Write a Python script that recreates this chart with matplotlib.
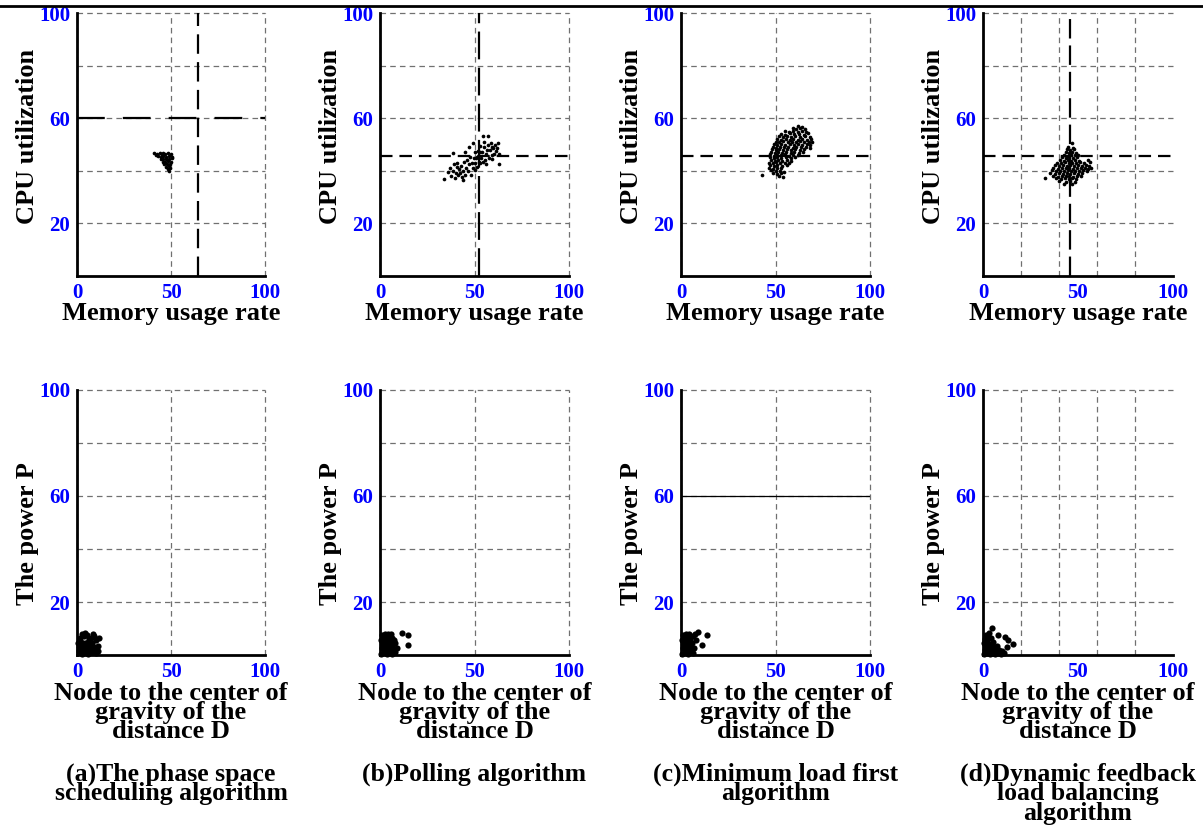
#!/usr/bin/env python
# -*- coding:utf-8 -*-

import matplotlib
matplotlib.use('Agg')
import matplotlib.pyplot as plt
from matplotlib.lines import Line2D
from matplotlib.ticker import FixedLocator

plt.rcParams['font.family'] = ['Liberation Serif', 'DejaVu Serif']
plt.rcParams['font.weight'] = 'bold'
plt.rcParams['lines.scale_dashes'] = False

# ---- data ----
captions = ['(a)The phase space\nscheduling algorithm',
			'(b)Polling algorithm',
			'(c)Minimum load first\nalgorithm',
			'(d)Dynamic feedback\nload balancing\nalgorithm']

top_xlabel = 'Memory usage rate'
top_ylabel = 'CPU utilization'
bot_xlabel = 'Node to the center of\ngravity of the\ndistance D'
bot_ylabel = 'The power P'

# top row: (memory, cpu)
a_top = [(41.0, 46.8), (42.5, 46.5), (44.0, 46.6), (45.5, 46.9), (47.0, 46.4), (48.5, 46.7),
		 (49.8, 46.2), (43.0, 45.6), (44.5, 45.4), (46.0, 45.7), (47.5, 45.3), (49.0, 45.6),
		 (50.3, 45.2), (44.5, 44.5), (46.0, 44.3), (47.5, 44.6), (49.0, 44.4), (50.4, 44.7),
		 (45.5, 43.5), (47.0, 43.3), (48.5, 43.6), (50.0, 43.4), (46.5, 42.6), (48.0, 42.4),
		 (49.5, 42.7), (47.5, 41.5), (49.0, 41.7), (48.5, 40.6), (49.7, 40.9), (49.2, 39.8),
		 (42.0, 46.0), (45.0, 45.9)]

b_top = [(34, 37), (36, 39.5), (37, 41), (37.5, 38), (38.5, 40), (38.8, 46.6), (39, 42.5),
		 (39.5, 37.2), (40, 39), (40.5, 41.5), (41, 43), (41.5, 38.5), (42, 40.5), (42.3, 39),
		 (43, 42), (43.5, 37.8), (44, 36.5), (44, 40), (44.5, 43.5), (45, 47.3), (45, 38.5),
		 (45.5, 41), (46, 44), (46.5, 40), (47, 42.5), (47.3, 49.2), (47.6, 45.4), (48, 38.5),
		 (48.5, 43), (49, 41), (49.4, 50.5), (49.5, 45), (50, 47), (50.3, 40.3), (50.5, 43),
		 (51, 44.8), (51.2, 45.4), (51.5, 41.5), (52, 47.5), (52.5, 43.5), (52.9, 42.8),
		 (52.9, 47.3), (53, 49.5), (53.5, 45), (54, 47), (54.3, 53.2), (54.5, 43.5), (55, 49),
		 (55.6, 44.1), (56, 46.5), (56.5, 47.9), (57, 50), (57.3, 53.2), (57.5, 45), (58, 48),
		 (58.5, 50.5), (59, 44.5), (59.1, 46), (59.5, 49), (60, 48.6), (60.5, 46.5), (61, 50),
		 (61.5, 47.5), (62, 48.5), (62.6, 50.5), (63, 42.6), (63, 46.5), (55, 51), (56, 42.5)]

c_top = [(62, 57.2), (64, 56.8),
		 (59, 56.1), (61, 55.8), (63, 56.2), (65.5, 55.9),
		 (55, 55.2), (57, 54.8), (59.5, 55.1), (62, 54.9), (64, 55.3), (66, 54.8),
		 (53, 54.1), (55, 53.8), (57.5, 54.2), (60, 53.9), (62.5, 54.1), (65, 53.7), (67, 54.2),
		 (52, 53.1), (54, 52.8), (56, 53.2), (58, 52.9), (60.5, 53.2), (63, 52.8), (65.5, 53.1), (68, 52.9),
		 (51, 52.2), (53, 51.8), (55.5, 52.1), (57.5, 51.9), (59.5, 52.2), (62, 51.8), (64, 52.1), (66.5, 51.9), (69, 52.2),
		 (50, 51.1), (52, 50.8), (54, 51.2), (56.5, 50.9), (58.5, 51.1), (61, 50.8), (63, 51.2), (65, 50.9), (67.5, 51.1), (69.5, 50.8),
		 (49, 50.2), (51, 49.8), (53, 50.1), (55, 49.9), (57.5, 50.2), (60, 49.8), (62, 50.1), (64, 49.9), (66.5, 50.2), (68.5, 49.8),
		 (48.5, 49.1), (50.5, 48.8), (52.5, 49.2), (54.5, 48.9), (56.5, 49.1), (59, 48.8), (61, 49.2), (63.5, 48.9), (66, 49.1), (68, 48.8),
		 (48, 48.2), (50, 47.8), (52, 48.1), (54, 47.9), (56, 48.2), (58, 47.8), (60.5, 48.1), (63, 47.9), (65, 48.2),
		 (47.5, 47.1), (49.5, 46.8), (51.5, 47.2), (53.5, 46.9), (55.5, 47.1), (58, 46.8), (60, 47.2), (62.5, 46.9), (64.5, 47.1),
		 (47, 46.2), (49, 45.8), (51, 46.1), (53, 45.9), (55, 46.2), (57, 45.8), (59.5, 46.1), (62, 45.9),
		 (47, 45.1), (49, 44.8), (51, 45.2), (53, 44.9), (55.5, 45.1), (58, 44.8), (60.5, 45.2),
		 (47.5, 44.2), (49.5, 43.8), (51.5, 44.1), (53.5, 43.9), (56, 44.2), (58, 43.8),
		 (46.5, 43.1), (48.5, 42.8), (50.5, 43.2), (52.5, 42.9), (55, 43.1), (57, 42.8),
		 (47, 42.2), (49, 41.8), (51, 42.1), (53.5, 41.9), (56, 42.2),
		 (46.5, 41.1), (48.5, 40.8), (51, 41.2), (53, 40.9),
		 (47.5, 40.2), (50, 39.8), (52.5, 40.1), (54.5, 39.6),
		 (48.5, 39.1), (51, 38.8), (53, 39.2),
		 (42.7, 38.4), (52, 38.0), (54, 37.6)]

d_top = [(46.7, 50.5),
		 (44.5, 49.1), (47.5, 48.8),
		 (44, 48.1), (46, 47.8), (48, 48.2),
		 (43.5, 47.1), (45, 46.8), (47, 47.2), (49, 46.9),
		 (42.5, 46.1), (44.5, 45.8), (46.5, 46.2), (48.5, 45.9), (50, 46.1),
		 (41.5, 45.1), (43.5, 44.8), (45.5, 45.2), (47.5, 44.9), (49.5, 45.1),
		 (40.5, 44.1), (42.5, 43.8), (44.5, 44.2), (46.5, 43.9), (48.5, 44.1), (50.5, 43.8), (55, 44.2),
		 (39, 43.1), (41, 42.8), (43, 43.2), (45, 42.9), (47, 43.1), (49, 42.8), (51, 43.2), (53, 42.9), (56.5, 43.3),
		 (38, 42.2), (40, 41.8), (42, 42.1), (44, 41.9), (46, 42.2), (48, 41.8), (50, 42.1), (52, 41.9), (54, 42.2), (56, 41.8),
		 (37, 41.1), (39.5, 40.8), (41.5, 41.2), (43.5, 40.9), (45.5, 41.1), (47.5, 40.8), (49.5, 41.2), (51.5, 40.9), (53.5, 41.1), (55.5, 40.8), (57, 41.2),
		 (36.5, 40.2), (38.5, 39.8), (40.5, 40.1), (42.5, 39.9), (44.5, 40.2), (46.5, 39.8), (48.5, 40.1), (50.5, 39.9), (52.5, 40.2), (54.5, 39.8),
		 (35, 39.1), (38, 38.8), (40, 39.2), (42, 38.9), (44, 39.1), (46, 38.8), (48, 39.2), (50, 38.9), (52, 39.1),
		 (37, 38.2), (39.5, 37.8), (41.5, 38.1), (43.5, 37.9), (45.5, 38.2), (47.5, 37.8), (49.5, 38.1), (51.5, 37.9),
		 (32.5, 37.4), (38.5, 37.1), (41, 36.8), (43, 37.2), (45, 36.9), (47, 37.1), (49, 36.8),
		 (40, 36.1), (43.5, 35.8), (46, 36.2), (48.5, 35.9),
		 (42.6, 34.9), (47, 35.1)]

# bottom row: (distance D, power P)
a_bot = [(1, 1), (2.5, 0.5), (4, 1), (6, 0.5), (8, 1), (10, 0.8), (1, 3), (3, 2.5), (5, 3),
		 (7, 2.5), (9, 3), (11, 3.5), (2, 5), (4, 4.5), (6, 5), (8, 4.5), (10, 5.5), (1.5, 6.5),
		 (3.5, 7), (5.5, 7.5), (7.5, 6.5), (9, 7), (4.5, 8.3), (2.5, 8), (6.5, 6), (3, 1.5),
		 (7, 1.5), (5, 2), (9, 2), (11, 1.5), (0.5, 4.5), (1, 2), (6, 3.8), (8, 3.5), (2, 3.8),
		 (11.5, 6.3), (8.5, 8)]

b_bot = [(0.5, 0.5), (2, 1), (3.5, 0.5), (5, 1), (6.5, 0.5), (8, 1.2), (1, 2.5), (2.5, 2),
		 (4, 2.5), (5.5, 2), (7, 2.8), (1.5, 4), (3, 4.5), (4.5, 3.8), (6, 4.2), (8, 4.5),
		 (0.5, 5.5), (2, 6), (3.5, 6.5), (5, 5.8), (6.5, 6.5), (1, 7.5), (2.5, 8), (4, 7.8),
		 (6, 8), (11.5, 8.2), (15, 7.5), (15, 3.8), (9, 2.5), (3, 3), (7.5, 5.5)]

c_bot = [(0.5, 0.5), (2, 1), (3.5, 0.5), (5, 1), (6.5, 0.8), (1, 2.5), (2.5, 2), (4, 2.8),
		 (5.5, 2.2), (7, 2.5), (1.5, 4), (3, 4.5), (4.5, 3.8), (6, 4.5), (0.5, 5.5), (2, 6),
		 (3.5, 6.5), (5, 6), (6.5, 7), (1, 7.5), (2.5, 8), (4, 7.8), (9.2, 8.8), (13.6, 7.4),
		 (11, 3.8), (7.5, 7.8), (8, 5.5), (3, 3)]

d_bot = [(0.5, 0.5), (2, 0.8), (3.5, 0.4), (5, 0.9), (6.5, 0.5), (8, 0.8), (9.5, 0.5),
		 (11, 0.7), (1, 2), (2.5, 1.8), (4, 2.2), (5.5, 1.7), (7, 2.1), (8.5, 1.8), (1.5, 3.3),
		 (3, 3), (4.5, 3.5), (6, 3.1), (7.5, 3.4), (0.5, 4.5), (2, 4.8), (3.5, 4.3), (5, 5),
		 (1, 6), (2.5, 6.3), (4, 6.5), (1.5, 7.5), (4.6, 10.1), (8, 7.5), (11.6, 6.9),
		 (13.3, 5.7), (16, 4.2), (12.5, 3.1), (3, 8.3), (10, 1.5)]

top_data = [a_top, b_top, c_top, d_top]
bot_data = [a_bot, b_bot, c_bot, d_bot]

# reference (dashed) lines of the top row: (cpu level, memory level)
top_hline = [60, 45.7, 45.7, 45.7]
top_vline = [64.5, 52.5, None, 46]
hline_dash = [(20, 13), (9, 5), (9, 5), (9, 5)]
vline_dash = [(14, 6), (20, 6), None, (14, 5)]
bot_hline = [None, None, 60, None]

# ---- layout (pixels of the original) ----
W, H = 1203., 825.
lefts = [77, 380, 681, 983]
widths = [188, 189, 189, 190]
fine_grid = [False, False, False, True]


def style_axes(ax, fine):
	ax.set_xlim(0, 100)
	ax.set_ylim(0, 100)
	ax.yaxis.set_major_locator(FixedLocator([20, 40, 60, 80, 100]))
	ax.set_yticklabels(['20', '', '60', '', '100'])
	ax.set_xticks([0, 50, 100])
	ax.set_xticklabels(['0', '50', '100'])
	ax.tick_params(length=0, pad=5, labelsize=15, labelcolor='#0000ff')
	for lab in ax.get_xticklabels() + ax.get_yticklabels():
		lab.set_fontweight('bold')
	for s in ['top', 'right']:
		ax.spines[s].set_visible(False)
	for s in ['left', 'bottom']:
		ax.spines[s].set_linewidth(2)
		ax.spines[s].set_color('black')
	gkw = dict(color='#707070', linewidth=0.9, dashes=(4, 3), clip_on=False)
	ax.grid(axis='y', which='major', **gkw)
	if fine:
		ax.xaxis.set_minor_locator(FixedLocator([20, 40, 60, 80, 100]))
		ax.tick_params(which='minor', length=0)
		ax.grid(axis='x', which='minor', **gkw)
	else:
		ax.grid(axis='x', which='major', **gkw)
	ax.set_axisbelow(True)


fig = plt.figure(figsize=(W / 100, H / 100), dpi=100)

# page rule at the top
fig.add_artist(Line2D([0, 1], [1 - 6 / H, 1 - 6 / H], transform=fig.transFigure,
					  color='black', linewidth=2))

for i in range(4):
	# top row
	ax = fig.add_axes([lefts[i] / W, (H - 276) / H, widths[i] / W, 263 / H])
	style_axes(ax, fine_grid[i])
	xs, ys = zip(*top_data[i])
	ax.scatter(xs, ys, s=7, color='black', linewidths=0, zorder=3)
	ax.axhline(top_hline[i], color='black', linewidth=1.6, dashes=hline_dash[i], zorder=4)
	if top_vline[i] is not None:
		ax.axvline(top_vline[i], color='black', linewidth=1.6, dashes=vline_dash[i], zorder=4)
	ax.set_xlabel(top_xlabel, fontsize=19, fontweight='bold', va='top')
	ax.xaxis.set_label_coords(0.5, -0.1)
	ax.set_ylabel(top_ylabel, fontsize=19, fontweight='bold')
	ax.yaxis.set_label_coords(-0.2, 0.53)

	# bottom row
	ax = fig.add_axes([lefts[i] / W, (H - 655) / H, widths[i] / W, 265 / H])
	style_axes(ax, fine_grid[i])
	xs, ys = zip(*bot_data[i])
	ax.scatter(xs, ys, s=20, color='black', linewidths=0, zorder=3, clip_on=False)
	if bot_hline[i] is not None:
		ax.axhline(bot_hline[i], color='black', linewidth=0.9, zorder=4)
	ax.set_xlabel(bot_xlabel, fontsize=19, fontweight='bold', linespacing=0.8, va='top')
	ax.xaxis.set_label_coords(0.5, -0.1)
	ax.set_ylabel(bot_ylabel, fontsize=19, fontweight='bold')
	ax.yaxis.set_label_coords(-0.2, 0.46)

	# caption under each column
	fig.text((lefts[i] + widths[i] / 2.) / W, (H - 763) / H, captions[i], ha='center',
			 va='top', fontsize=18.5, fontweight='bold', linespacing=0.78)

fig.savefig('out.png', dpi=100)
